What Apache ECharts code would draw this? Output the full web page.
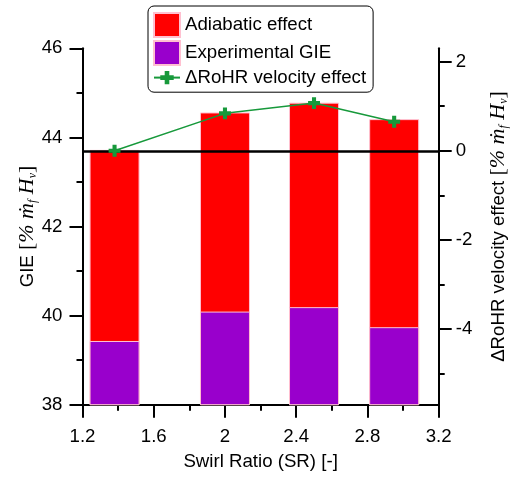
<!DOCTYPE html>
<html><head><meta charset="utf-8">
<script src="https://cdn.jsdelivr.net/npm/echarts@6/dist/echarts.min.js"></script>
<style>html,body{margin:0;padding:0;background:#fff}#c{width:512px;height:482px}</style>
</head><body><div id="c"></div>
<script>
// ---- data ----
const swirlRatio = [1.38, 2.0, 2.5, 2.95];
const adiabaticEffect = [43.72, 44.56, 44.78, 44.41];
const experimentalGIE = [39.43, 40.09, 40.19, 39.74];
const rohrVelocityEffect = [0.0, 0.84, 1.07, 0.65];
const rightTicks = [-4, -2, 0, 2];
const rightMinorTicks = [-5, -3, -1, 1];
const seriesNames = ['Adiabatic effect', 'Experimental GIE', '\u0394RoHR velocity effect'];

const GREEN = '#17993b';
const plusPath = 'path://M0,0h0.01v0.01zM20,20h0.01v0.01zM7.6,3H12.4V7.6H17V12.4H12.4V17H7.6V12.4H3V7.6H7.6Z';
const font = 'Liberation Sans';
const FS = 18.67;
const rich = {
  a: {fontFamily: font, fontSize: FS, color: '#000'},
  b: {fontFamily: 'Liberation Serif', fontSize: 22, color: '#000'},
  i: {fontFamily: 'Liberation Serif', fontStyle: 'italic', fontSize: 22, color: '#000'},
  s: {fontFamily: 'Liberation Serif', fontStyle: 'italic', fontSize: 12, color: '#000', verticalAlign: 'bottom'}
};
const unitRich = '{b|[}{i|% \u1E41}{s|f}{i| H}{s|v}{b|]}';

const chart = echarts.init(document.getElementById('c'), null, {renderer: 'canvas'});
const axisLine = {show: true, lineStyle: {color: '#000', width: 2}};
const tickStyle = {color: '#000', width: 2};

chart.setOption({
  animation: false,
  backgroundColor: '#fff',
  grid: {left: 82.5, right: 73.3, top: 48.3, bottom: 77.3, containLabel: false, outerBoundsMode: 'none'},
  legend: {
    left: 148, top: 6, orient: 'vertical',
    itemWidth: 26, itemHeight: 24, itemGap: 2,
    padding: [6, 7, 5, 5],
    borderColor: '#000', borderWidth: 1, borderRadius: 6,
    backgroundColor: '#fff',
    textStyle: {fontSize: FS, fontFamily: font, color: '#000'},
    data: [{name: seriesNames[0], icon: 'rect'}, {name: seriesNames[1], icon: 'rect'}, {name: seriesNames[2]}]
  },
  xAxis: {
    type: 'value', min: 1.2, max: 3.2, interval: 0.4,
    name: 'Swirl Ratio (SR) [-]', nameLocation: 'middle', nameGap: 48, nameMoveOverlap: false,
    nameTextStyle: {fontSize: FS, fontFamily: font, color: '#000'},
    axisLine: Object.assign({onZero: false}, axisLine),
    axisTick: {show: true, length: 13, lineStyle: tickStyle},
    minorTick: {show: true, splitNumber: 2, length: 6, lineStyle: tickStyle},
    axisLabel: {fontSize: FS, fontFamily: font, color: '#000', margin: 23},
    splitLine: {show: false}
  },
  yAxis: [
    {
      type: 'value', position: 'left', min: 38, max: 46, interval: 2,
      name: '{a|GIE }' + unitRich, nameLocation: 'middle', nameRotate: 90, nameGap: 44, nameMoveOverlap: false,
      nameTextStyle: {rich: rich},
      axisLine: axisLine,
      axisTick: {show: true, length: 13, lineStyle: tickStyle},
      minorTick: {show: true, splitNumber: 2, length: 6, lineStyle: tickStyle},
      axisLabel: {fontSize: FS, fontFamily: font, color: '#000', margin: 20},
      splitLine: {show: false}
    },
    {
      type: 'value', position: 'right', min: -5.70, max: 2.30,
      name: '{a|\u0394RoHR velocity effect }' + unitRich, nameLocation: 'middle', nameRotate: 90, nameGap: 49, nameMoveOverlap: false,
      nameTextStyle: {rich: rich},
      axisLine: axisLine,
      axisTick: {show: true, length: 13, lineStyle: tickStyle, customValues: rightTicks},
      axisLabel: {fontSize: FS, fontFamily: font, color: '#000', margin: 17, customValues: rightTicks},
      splitLine: {show: false}
    },
    {
      type: 'value', position: 'right', min: -5.70, max: 2.30,
      axisLine: {show: false},
      axisTick: {show: true, length: 6, lineStyle: tickStyle, customValues: rightMinorTicks},
      axisLabel: {show: false, customValues: rightMinorTicks},
      splitLine: {show: false}
    }
  ],
  series: [
    {
      name: seriesNames[0], type: 'bar', yAxisIndex: 0,
      data: swirlRatio.map((x, i) => [x, adiabaticEffect[i]]),
      barWidth: 50, barGap: '-100%',
      itemStyle: {color: '#ff0000', borderColor: '#ffc0d0', borderWidth: 1}
    },
    {
      name: seriesNames[1], type: 'bar', yAxisIndex: 0,
      data: swirlRatio.map((x, i) => [x, experimentalGIE[i]]),
      barWidth: 50, barGap: '-100%',
      itemStyle: {color: '#9900cc', borderColor: '#ffc0d0', borderWidth: 1}
    },
    {
      name: seriesNames[2], type: 'line', yAxisIndex: 1, z: 6,
      data: swirlRatio.map((x, i) => [x, rohrVelocityEffect[i]]),
      symbol: plusPath, symbolSize: 17,
      itemStyle: {color: GREEN, borderWidth: 0},
      lineStyle: {color: GREEN, width: 1.5},
      markLine: {
        silent: true, symbol: 'none', z: 3, animation: false,
        label: {show: false},
        lineStyle: {color: '#000', width: 2.5, type: 'solid'},
        emphasis: {disabled: true},
        data: [{yAxis: 0}]
      }
    }
  ]
});
</script>
</body></html>
